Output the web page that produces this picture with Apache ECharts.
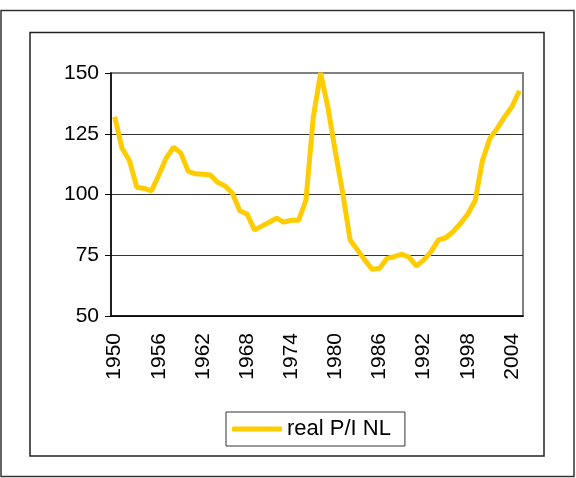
<!DOCTYPE html>
<html>
<head>
    <meta charset="utf-8">
    <title>real P/I NL</title>
    <script src="https://cdn.jsdelivr.net/npm/echarts@6.0.0/dist/echarts.min.js"></script>
    <style>
        html, body { margin: 0; padding: 0; background: #fff; }
        #chart { width: 576px; height: 478px; }
    </style>
</head>
<body>
<div id="chart"></div>
<script>
    // years 1950 - 2005
    var years = [];
    for (var y = 1950; y <= 2005; y++) {
        years.push(String(y));
    }

    var realPI = [
        132, 119, 114, 103, 102.5, 101.5, 108, 115, 119.5, 117,
        109.5, 108.5, 108.3, 108, 105, 103.5, 100.5, 93.3, 92, 85.4,
        87, 88.6, 90.3, 88.6, 89.4, 89.4, 97.7, 132, 150, 135.5,
        117.5, 100.5, 81.3, 77.2, 73, 69.2, 69.6, 73.7, 74.4, 75.4,
        74.2, 70.6, 73, 76.5, 81.3, 82.2, 84.7, 88.1, 92, 97.5,
        114.2, 123.1, 127.2, 132, 136.1, 142.7
    ];

    var yTicks = [50, 75, 100, 125, 150];

    var chart = echarts.init(document.getElementById('chart'));

    var option = {
        animation: false,
        textStyle: { fontFamily: 'Liberation Sans, Arial, sans-serif' },
        graphic: [
            {
                type: 'rect',
                shape: { x: 1, y: 10.5, width: 573, height: 466 },
                style: { fill: 'none', stroke: '#333', lineWidth: 1.5 }
            },
            {
                type: 'rect',
                shape: { x: 30, y: 32.5, width: 514, height: 423.5 },
                style: { fill: 'none', stroke: '#222', lineWidth: 1.5 }
            }
        ],
        grid: {
            left: 111,
            right: 53,
            top: 73,
            bottom: 162,
            show: true,
            borderColor: '#808080',
            borderWidth: 2
        },
        legend: {
            left: 226,
            top: 412,
            data: ['real P/I NL'],
            icon: 'roundRect',
            itemWidth: 50,
            itemHeight: 5,
            itemGap: 5,
            padding: [6, 14, 6, 6],
            borderColor: '#333',
            borderWidth: 1,
            textStyle: { color: '#000', fontSize: 22 }
        },
        xAxis: {
            type: 'category',
            data: years,
            boundaryGap: true,
            axisLine: { lineStyle: { color: '#000', width: 1.5 } },
            axisTick: { interval: 2, length: 6, lineStyle: { color: '#000' } },
            axisLabel: {
                interval: 5,
                rotate: 90,
                color: '#000',
                fontSize: 21,
                margin: 17
            },
            splitLine: { show: false }
        },
        yAxis: {
            type: 'value',
            min: yTicks[0],
            max: yTicks[yTicks.length - 1],
            interval: 25,
            axisLine: { show: true, lineStyle: { color: '#000', width: 1.5 } },
            axisTick: { show: true, length: 6, lineStyle: { color: '#000' } },
            axisLabel: { color: '#000', fontSize: 21, margin: 12 },
            splitLine: {
                show: true,
                showMaxLine: false,
                lineStyle: { color: '#333', width: 1 }
            }
        },
        series: [
            {
                name: 'real P/I NL',
                type: 'line',
                data: realPI,
                symbol: 'none',
                itemStyle: { color: '#FFCC00' },
                lineStyle: { color: '#FFCC00', width: 5 }
            }
        ]
    };

    chart.setOption(option);
</script>
</body>
</html>
